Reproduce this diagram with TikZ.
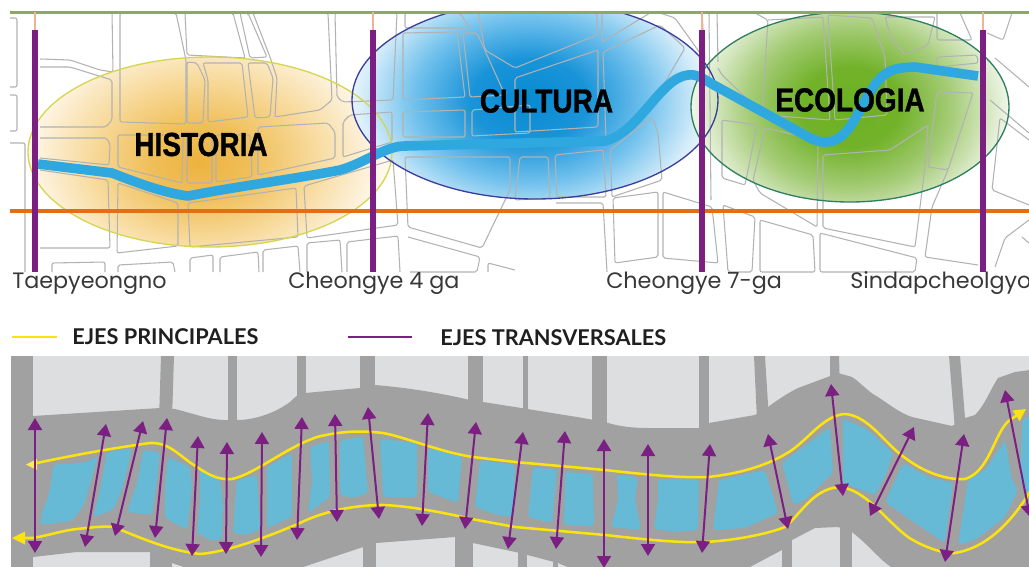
\documentclass[tikz,border=0pt]{standalone}
\usepackage{fontspec}
\usetikzlibrary{arrows.meta}
\setmainfont{Liberation Sans}
\newfontfamily\zonefont[FakeBold=1.2]{Liberation Sans Bold}
\newfontfamily\labelfont{Poppins}
\newfontfamily\legendfont{Lato}
\definecolor{purp}{HTML}{7B1F82}
\definecolor{river}{HTML}{2FA8DF}
\definecolor{orangeline}{HTML}{E36F12}
\definecolor{greenline}{HTML}{8DA860}
\definecolor{stub}{HTML}{EBB596}
\definecolor{streetc}{HTML}{B2B2B2}
\definecolor{yell}{HTML}{FBE30F}
\definecolor{lightblock}{HTML}{DDDEE0}
\definecolor{road}{HTML}{A1A1A1}
\definecolor{isle}{HTML}{66BAD5}
\definecolor{histline}{HTML}{D5D650}
\definecolor{cultline}{HTML}{3A3F9E}
\definecolor{ecoline}{HTML}{2F8060}
\pgfdeclareradialshading{histshade}{\pgfpoint{-1.5bp}{-2bp}}{rgb(0bp)=(0.93,0.70,0.25); rgb(7bp)=(0.94,0.75,0.35); rgb(15bp)=(0.97,0.85,0.60); rgb(22bp)=(0.99,0.94,0.84); rgb(27bp)=(1,1,1); rgb(50bp)=(1,1,1)}
\pgfdeclareradialshading{cultshade}{\pgfpoint{-1bp}{0bp}}{rgb(0bp)=(0.03,0.54,0.82); rgb(8bp)=(0.10,0.58,0.85); rgb(16bp)=(0.45,0.76,0.93); rgb(23bp)=(0.84,0.93,0.98); rgb(27bp)=(1,1,1); rgb(50bp)=(1,1,1)}
\pgfdeclareradialshading{ecoshade}{\pgfpoint{0bp}{0bp}}{rgb(0bp)=(0.42,0.69,0.13); rgb(8bp)=(0.45,0.70,0.17); rgb(16bp)=(0.65,0.80,0.47); rgb(23bp)=(0.88,0.93,0.82); rgb(27bp)=(1,1,1); rgb(50bp)=(1,1,1)}
\tikzset{
  street/.style={draw=streetc,line width=0.8pt,rounded corners=1.5pt,line join=round},
  stage/.style={draw=purp,line width=5.2pt},
  stubline/.style={draw=stub,line width=0.9pt},
  riverline/.style={draw=river,line width=7.2pt,line cap=butt,line join=round},
  zonetext/.style={font=\zonefont\fontsize{25}{25}\selectfont,text=black,xscale=0.84,inner sep=0pt},
  placetext/.style={font=\labelfont\fontsize{16.7}{17}\selectfont,text=black!78,inner sep=0pt,anchor=base west},
  legendtext/.style={font=\legendfont\bfseries\fontsize{16.3}{17}\selectfont,text=black!88,inner sep=0pt,anchor=west},
  mainaxis/.style={draw=yell,line width=1.9pt,line cap=round},
  crossaxis/.style={draw=purp,line width=1.5pt,{Triangle[length=9pt,width=10.5pt]}-{Triangle[length=9pt,width=10.5pt]}},
  isleshape/.style={fill=isle,rounded corners=2.5pt},
}
\begin{document}
\begin{tikzpicture}[x=0.75pt,y=-0.75pt]
\useasboundingbox (0,0) rectangle (1029,567);
% ---------- top panel ----------
\begin{scope}
\clip (10,12) rectangle (1029,272);
\begin{scope}
\clip (210,152) ellipse [x radius=182,y radius=95];
\shade[shading=histshade] (28,20) rectangle (392,284);
\end{scope}
\begin{scope}
\clip (535,100) ellipse [x radius=183,y radius=99];
\shade[shading=cultshade] (352,-30) rectangle (718,230);
\end{scope}
\begin{scope}
\clip (850,107) ellipse [x radius=159,y radius=95];
\shade[shading=ecoshade] (691,-20) rectangle (1009,234);
\end{scope}
% street blocks
\foreach \b in {
 {(10,18)--(17,18)--(17,87)--(10,87)},
 {(10,95)--(17,95)--(17,131)--(10,131)},
 {(10,143)--(25,143)--(25,272)},
 {(40,12)--(112,12)--(113,72)--(100,70)--(70,60)--(40,59)},
 {(40,67)--(70,67)--(112,80)--(112,120)--(106,127)--(40,127)},
 {(40,138)--(107,138)--(110,145)--(109,165)--(40,158)},
 {(40,170)--(108,180)--(110,248)--(40,248)},
 {(120,13)--(176,13)--(186,60)--(186,124)--(120,122)--cycle},
 {(187,62)--(197,63)--(205,80)--(203,123)--(187,123)--cycle},
 {(203,63)--(242,63)--(248,117)--(208,122)--(208,80)--cycle},
 {(248,63)--(267,63)--(273,78)--(270,117)--(255,118)--cycle},
 {(185,13)--(233,13)--(245,58)--(187,55)--cycle},
 {(240,13)--(248,13)--(267,57)--(250,58)--cycle},
 {(253,13)--(328,13)--(332,100)--(320,110)--(275,117)--(277,78)--(270,57)--cycle},
 {(335,13)--(397,13)--(393,100)--(343,102)--(337,97)--cycle},
 {(118,135)--(183,135)--(182,183)--(118,167)--cycle},
 {(187,135)--(212,135)--(212,183)--(187,183)--cycle},
 {(216,135)--(250,135)--(252,177)--(216,182)--cycle},
 {(258,127)--(328,123)--(335,132)--(335,158)--(258,175)--cycle},
 {(343,122)--(350,115)--(392,112)--(392,142)--(343,157)--cycle},
 {(118,183)--(178,203)--(178,246)--(117,253)--cycle},
 {(188,203)--(296,188)--(298,237)--(190,247)--cycle},
 {(304,186)--(393,160)--(398,225)--(307,238)--cycle},
 {(52,272)--(52,263)--(105,262)--(105,272)},
 {(118,272)--(118,265)--(173,262)--(175,272)},
 {(190,272)--(190,258)--(213,255)--(213,272)},
 {(220,272)--(220,257)--(258,252)--(259,272)},
 {(263,272)--(263,250)--(298,246)--(300,272)},
 {(307,272)--(307,243)--(340,240)--(342,272)},
 {(347,272)--(347,242)--(398,236)--(400,272)},
 {(405,13)--(460,13)--(470,28)--(405,28)--cycle},
 {(403,33)--(457,32)--(465,97)--(403,100)--cycle},
 {(463,33)--(477,33)--(505,95)--(470,97)--cycle},
 {(403,112)--(465,110)--(465,137)--(403,137)--cycle},
 {(472,110)--(530,105)--(530,133)--(472,136)--cycle},
 {(405,157)--(510,157)--(510,190)--(482,248)--(408,227)--cycle},
 {(408,237)--(480,257)--(477,272)--(410,272)},
 {(488,272)--(488,263)--(515,270)},
 {(520,157)--(548,157)--(550,198)--(515,200)--cycle},
 {(555,155)--(603,150)--(605,180)--(606,197)--(557,197)--cycle},
 {(610,150)--(652,117)--(658,133)--(662,180)--(612,197)--cycle},
 {(602,13)--(650,13)--(602,42)--cycle},
 {(478,13)--(597,13)--(597,35)--(515,68)--(485,50)--cycle},
 {(515,78)--(598,50)--(598,127)--(515,132)--cycle},
 {(603,52)--(660,25)--(685,48)--(650,108)--(606,140)--cycle},
 {(660,13)--(702,13)--(705,60)--(675,18)--cycle},
 {(556,203)--(603,203)--(607,272)},
 {(613,198)--(658,192)--(658,257)--(615,263)--cycle},
 {(663,192)--(712,207)--(718,263)--(663,258)--cycle},
 {(709,13)--(711,200)},
 {(717,13)--(718,62)},
 {(718,68)--(722,75)--(762,113)--(768,20)--(755,13)},
 {(768,20)--(823,17)--(830,120)--(765,115)},
 {(828,15)--(872,18)--(885,57)--(887,115)--(835,120)--cycle},
 {(885,17)--(935,17)--(928,45)--(905,55)--(892,40)--cycle},
 {(937,13)--(937,40)--(972,40)--(960,13)},
 {(937,57)--(977,55)--(978,63)--(937,67)--cycle},
 {(937,92)--(973,93)--(948,170)--(928,167)--cycle},
 {(722,120)--(757,125)--(745,185)--(722,178)--cycle},
 {(765,128)--(818,140)--(817,227)--(760,193)--(753,180)--cycle},
 {(823,155)--(890,150)--(928,125)--(925,167)--(915,247)--(823,228)--cycle},
 {(948,170)--(932,207)--(925,257)--(978,265)},
 {(760,220)--(813,235)--(815,272)--(760,272)--cycle},
 {(820,233)--(917,258)--(915,272)--(820,272)--cycle},
 {(723,205)--(755,217)--(752,272)--(728,272)--cycle},
 {(987,33)--(1003,40)--(1012,13)},
 {(990,100)--(1029,133)},
 {(995,58)--(1029,87)},
 {(1029,220)--(1005,238)--(995,267)},
 {(1022,237)--(1029,243)},
 {(1029,140)--(1000,118)--(992,190)--(1029,205)}
}{ \draw[street] \b; }
% zone outlines
\draw[draw=histline,line width=1pt] (210,152) ellipse [x radius=182,y radius=95];
\draw[draw=cultline,line width=1pt] (535,100) ellipse [x radius=183,y radius=99];
\draw[draw=ecoline,line width=1pt] (850,107) ellipse [x radius=159,y radius=95];
% river
\draw[riverline] (38,164) -- (112,173) .. controls (140,184) and (165,193) .. (188,196) .. controls (240,186) and (300,178) .. (340,170) .. controls (365,163) and (385,146) .. (405,146) -- (605,141) .. controls (640,132) and (660,78) .. (688,75) .. controls (698,74) and (702,78) .. (712,84) -- (810,138) .. controls (845,155) and (855,115) .. (870,92) .. controls (885,68) and (895,68) .. (915,67) -- (978,76);
% horizontal lines
\coordinate (gl) at (10,12.5); \coordinate (gr) at (1029,12.5);
\coordinate (ol) at (10,210.5); \coordinate (or) at (1029,210.5);
\draw[orangeline,line width=3pt] (ol) -- (or);
\end{scope}
\draw[greenline,line width=1.6pt] (gl) -- (gr);
% stages
\foreach \i/\x in {1/35,2/373,3/702,4/983}{
  \coordinate (s\i) at (\x,12);
  \coordinate (m\i) at (\x,30);
  \coordinate (e\i) at (\x,272);
  \draw[stubline] (s\i) -- (m\i);
  \draw[stage] (m\i) -- (e\i);
}
% zone labels
\node[zonetext] (historia) at (201,144.5) {HISTORIA};
\node[zonetext] (cultura) at (546.5,101) {CULTURA};
\node[zonetext] (ecologia) at (850,100) {ECOLOGIA};
% place labels
\node[placetext] (p1) at (12,288) {Taepyeongno};
\node[placetext] (p2) at (288,288) {Cheongye 4 ga};
\node[placetext] (p3) at (606,288) {Cheongye 7-ga};
\node[placetext] (p4) at (850,288) {Sindapcheolgyo};
% legend
\coordinate (ly1) at (12,337); \coordinate (ly2) at (57,337);
\coordinate (lp1) at (348,337); \coordinate (lp2) at (412,337);
\draw[draw=yell,line width=1.6pt] (ly1) -- (ly2);
\draw[draw=purp,line width=1.6pt] (lp1) -- (lp2);
\node[legendtext] (lt1) at (72,336.5) {EJES PRINCIPALES};
\node[legendtext] (lt2) at (440,337.5) {EJES TRANSVERSALES};
% ---------- bottom panel ----------
\begin{scope}
\clip (11,356) rectangle (1029,567);
\fill[lightblock] (11,356) rectangle (1029,567);
% cross streets
\fill[road] (11,356) rectangle (33,567);
\fill[road] (161,356) -- (174,356) -- (172,420) -- (159,420) -- cycle;
\foreach \a/\c in {228/237,297/306,360/375,468/483,523/528,592/607,699/709}{
  \fill[road] (\a,356) rectangle (\c,440);
}
\fill[road] (754,356) -- (765,356) -- (769,420) -- (757,420) -- cycle;
\fill[road] (830,356) -- (839,356) -- (840,390) -- (830,390) -- cycle;
\fill[road] (949,356) -- (960,356) -- (966,430) -- (955,430) -- cycle;
\fill[road] (150,540) rectangle (172,567);
\fill[road] (363,530) rectangle (376,567);
\fill[road] (455,530) rectangle (473,567);
\fill[road] (518,545) rectangle (527,567);
\fill[road] (553,545) rectangle (558,567);
\fill[road] (782,530) rectangle (792,567);
\fill[road] (840,520) rectangle (852,567);
% river corridor
\fill[road] (33,416) -- (160,408) -- (175,409) .. controls (195,414) and (210,420) .. (225,420) -- (237,420) .. controls (255,420) and (275,413) .. (290,402) .. controls (296,396) and (300,393) .. (305,393) -- (360,388) -- (375,385) .. controls (410,388) and (440,393) .. (470,400) -- (483,402) -- (515,407) -- (583,418) -- (605,422) .. controls (620,427) and (635,428) .. (648,428) -- (699,428) -- (709,423) -- (755,415) -- (768,407) .. controls (780,398) and (790,392) .. (798,388) -- (825,378) -- (838,373) -- (852,377) .. controls (860,382) and (868,392) .. (878,397) .. controls (890,405) and (900,413) .. (912,417) -- (952,426) -- (965,418) -- (975,415) .. controls (985,405) and (990,390) .. (998,378) -- (1015,372) -- (1030,370) -- (1030,568) -- (892,568) -- (882,560) .. controls (870,548) and (862,540) .. (852,532) -- (838,527) -- (815,528) -- (792,540) -- (782,550) -- (748,568) -- (570,568) -- (558,563) -- (520,553) -- (473,543) -- (455,537) -- (376,543) -- (363,547) -- (300,568) -- (187,568) -- (172,563) -- (150,552) -- (77,552) -- (33,557) -- cycle;
% water blocks
\foreach \p in {
 {(53,465)--(87,462)--(98,456)--(84,505)--(72,521)--(40,525)--(42,513)--(50,490)},
 {(107,452)--(132,448)--(123,487)--(113,510)--(93,517)--(100,490)},
 {(143,450)--(160,452)--(157,480)--(152,515)--(127,512)--(137,483)},
 {(168,457)--(190,467)--(192,487)--(187,530)--(165,518)--(165,487)},
 {(200,470)--(220,480)--(223,503)--(222,540)--(210,540)--(197,533)--(200,500)},
 {(237,480)--(257,475)--(260,530)--(245,535)--(233,533)--(235,503)},
 {(267,467)--(292,453)--(292,517)--(267,528)},
 {(310,447)--(329,441)--(330,497)--(308,513)--(312,480)},
 {(340,440)--(363,437)--(368,493)--(353,498)--(340,495)},
 {(380,439)--(417,443)--(417,497)--(383,497)},
 {(428,448)--(462,457)--(458,503)--(428,492)},
 {(480,460)--(515,465)--(513,517)--(497,515)--(475,507)},
 {(533,467)--(557,470)--(552,523)--(528,517)},
 {(565,472)--(593,474)--(594,526)--(564,525)},
 {(617,475)--(638,477)--(635,500)--(641,530)--(611,527)--(618,500)},
 {(658,479)--(699,479)--(698,530)--(675,532)--(654,529)--(658,500)},
 {(719,480)--(765,470)--(778,513)--(745,528)--(713,530)},
 {(782,463)--(830,427)--(833,473)--(805,500)--(793,505)},
 {(843,418)--(868,430)--(893,453)--(885,477)--(875,495)--(843,483)},
 {(903,463)--(928,477)--(953,483)--(945,543)--(915,523)--(885,502)},
 {(968,480)--(985,470)--(1005,440)--(1012,480)--(1018,490)--(1005,517)--(975,540)--(958,545)},
 {(1022,420)--(1031,415)--(1031,500)--(1020,480)}
}{ \fill[isleshape] \p --cycle; }
% main axes
\coordinate (u0) at (37,463); \coordinate (u1) at (1026,409);
\draw[mainaxis,-{Triangle[length=9pt,width=9pt,fill=yell]}] (u0) .. controls (60,458) and (100,450) .. (150,443) .. controls (170,442) and (180,457) .. (197,467) .. controls (210,476) and (220,480) .. (232,479) .. controls (255,474) and (285,448) .. (317,437) .. controls (345,430) and (365,431) .. (383,433) .. controls (405,437) and (440,452) .. (473,457) -- (515,462) -- (605,470) .. controls (650,475) and (680,478) .. (708,477) .. controls (755,472) and (780,458) .. (792,450) .. controls (810,437) and (825,415) .. (845,414) .. controls (870,416) and (885,445) .. (908,460) .. controls (925,472) and (945,480) .. (965,479) .. controls (990,472) and (995,430) .. (1010,420) -- (u1);
\coordinate (l0) at (23,538); \coordinate (l1) at (1031,490);
\draw[mainaxis] (l0) -- (33,538) .. controls (50,535) and (65,530) .. (77,529) .. controls (95,527) and (105,526) .. (113,527) .. controls (135,535) and (165,550) .. (200,554) .. controls (225,552) and (260,540) .. (300,523) .. controls (320,513) and (350,505) .. (383,505) .. controls (410,506) and (440,512) .. (477,520) -- (515,527) -- (605,535) .. controls (650,540) and (680,543) .. (705,542) .. controls (740,540) and (770,533) .. (785,527) .. controls (800,515) and (812,490) .. (838,487) .. controls (865,488) and (885,520) .. (908,537) .. controls (925,548) and (945,554) .. (955,553) .. controls (985,548) and (1010,525) .. (l1);
\coordinate (lt) at (12,538);
\fill[yell] (lt) -- (25,531.5) -- (25,544.5) -- cycle;
\fill[yell!70!white] (26,464.5) -- (37,459) -- (37,470) -- cycle;
% transverse axes
\foreach \i/\ax/\ay/\bx/\by in {
 1/35/418/35/553, 2/106/424/85/547, 3/143/421/115/536, 4/167/418/155/538,
 5/198/436/192/556, 6/227/442/226/554, 7/262/432/261/557, 8/302/417/297/540,
 9/335/414/337/522, 10/368/407/379/519, 11/428/413/422/526, 12/476/422/465/529,
 13/523/432/508/549, 14/565/431/556/549, 15/604/439/604/568, 16/648/444/648/556,
 17/710/444/702/553, 18/768/434/788/529, 19/831/384/843/496, 20/914/427/870/516,
 21/964/434/945/562, 22/1005/390/1030/517}{
  \coordinate (t\i) at (\ax,\ay);
  \coordinate (b\i) at (\bx,\by);
  \draw[crossaxis] (t\i) -- (b\i);
}
\end{scope}
\end{tikzpicture}
\end{document}
